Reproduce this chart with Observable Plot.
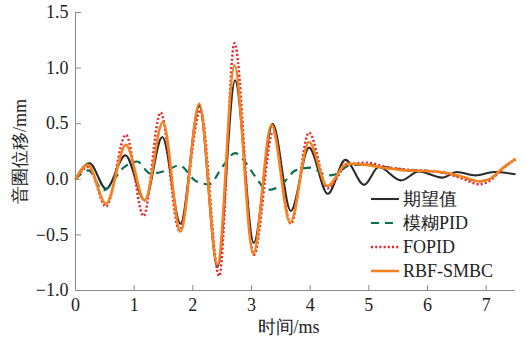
<!DOCTYPE html>
<html>
<head>
<meta charset="utf-8">
<script src="https://cdn.jsdelivr.net/npm/d3@7"></script>
<script src="https://cdn.jsdelivr.net/npm/@observablehq/plot@0.6"></script>
<style>
  html, body { margin: 0; padding: 0; background: white; }
  #wrap { position: relative; width: 527px; height: 338px; }
  #legend { position: absolute; left: 371px; top: 187px; font-family: 'Liberation Serif', 'Times New Roman', serif; font-size: 18px; color: #222; }
  .row { display: flex; align-items: center; height: 24px; white-space: nowrap; }
  .row svg { margin-right: 4px; }
</style>
</head>
<body>
<div id="wrap"><div id="legend"></div></div>
<script>
// ---- data ----
const xTicks = [0, 1, 2, 3, 4, 5, 6, 7];
const yTicks = [-1, -0.5, 0, 0.5, 1, 1.5];
const xDomain = [0, 7.5];
const yDomain = [-1, 1.5];
const xLabel = "时间/ms";
const yLabel = "音圈位移/mm";
const seriesNames = ["期望值", "模糊PID", "FOPID", "RBF-SMBC"];

const tDesired = [0, 0.24, 0.52, 0.85, 1.18, 1.48, 1.79, 2.11, 2.42, 2.72, 3.04, 3.36, 3.67, 3.98, 4.30, 4.60, 4.92, 5.17, 5.55, 5.85, 6.25, 6.5, 6.82, 7.13, 7.5];
const vDesired = [0, 0.145, -0.085, 0.215, -0.19, 0.38, -0.40, 0.66, -0.79, 0.89, -0.57, 0.50, -0.285, 0.285, -0.13, 0.175, -0.05, 0.11, -0.01, 0.07, 0.015, 0.065, 0.035, 0.065, 0.045];

const tFuzzy = [0, 0.22, 0.47, 0.83, 1.05, 1.28, 1.55, 1.77, 2.05, 2.28, 2.50, 2.72, 2.87, 3.07, 3.27, 3.50, 3.75, 4.01, 4.29, 4.4, 4.7, 5.0, 5.3, 5.6, 6.0, 6.34, 6.62, 6.88, 7.07, 7.27, 7.5];
const vFuzzy = [0, 0.08, -0.10, 0.11, 0.16, 0.05, 0.08, 0.125, -0.015, -0.045, 0.11, 0.235, 0.17, 0.02, -0.095, -0.055, 0.08, 0.105, 0.035, 0.04, 0.13, 0.13, 0.11, 0.085, 0.075, 0.055, 0.015, -0.02, 0.005, 0.095, 0.18];

const tFopid = [0, 0.22, 0.52, 0.86, 1.16, 1.45, 1.77, 2.13, 2.45, 2.71, 3.04, 3.37, 3.67, 3.98, 4.30, 4.63, 4.97, 5.3, 5.6, 6.0, 6.34, 6.62, 6.88, 7.07, 7.27, 7.5];
const vFopid = [0, 0.11, -0.245, 0.40, -0.33, 0.60, -0.46, 0.62, -0.87, 1.225, -0.68, 0.43, -0.40, 0.42, -0.08, 0.13, 0.15, 0.11, 0.09, 0.075, 0.05, 0.0, -0.045, -0.01, 0.09, 0.18];

const tRbf = [0, 0.21, 0.52, 0.86, 1.18, 1.49, 1.79, 2.11, 2.42, 2.71, 3.03, 3.34, 3.66, 3.98, 4.29, 4.63, 4.95, 5.3, 5.6, 6.0, 6.34, 6.62, 6.88, 7.07, 7.27, 7.5];
const vRbf = [0, 0.13, -0.22, 0.31, -0.19, 0.515, -0.47, 0.68, -0.77, 1.025, -0.67, 0.49, -0.39, 0.335, -0.06, 0.14, 0.13, 0.10, 0.08, 0.075, 0.057, 0.02, -0.018, 0.006, 0.096, 0.185];

// ---- styles ----
const styles = [
  {stroke: "#2b2b2b", strokeWidth: 2.1, dash: null},
  {stroke: "#0a6e50", strokeWidth: 2.2, dash: "8,6"},
  {stroke: "#ee1c25", strokeWidth: 2.4, dash: "2,2.2"},
  {stroke: "#f7821f", strokeWidth: 2.6, dash: null}
];
const ts = [tDesired, tFuzzy, tFopid, tRbf];
const vs = [vDesired, vFuzzy, vFopid, vRbf];
const series = seriesNames.map((name, i) => ts[i].map((t, j) => ({t, v: vs[i][j], name})));

const tickShape = {draw(ctx, l) { ctx.moveTo(0, 0); ctx.lineTo(0, -l); }};
const axisColor = "#8a8a8a";
const font = "'Liberation Serif', 'Times New Roman', serif";
const xMid = (xDomain[0] + xDomain[1]) / 2;
const yMid = (yDomain[0] + yDomain[1]) / 2;

const chart = Plot.plot({
  width: 527, height: 338,
  marginLeft: 75, marginRight: 12, marginTop: 12, marginBottom: 48,
  x: {domain: xDomain},
  y: {domain: yDomain},
  style: {fontFamily: font, fontSize: "18px", color: "#222", background: "white", overflow: "visible"},
  marks: [
    Plot.ruleY([yDomain[0]], {stroke: axisColor, strokeWidth: 1}),
    Plot.ruleX([xDomain[0]], {stroke: axisColor, strokeWidth: 1}),
    Plot.vector(xTicks, {x: d => d, frameAnchor: "bottom", length: 5, anchor: "start", shape: tickShape, stroke: axisColor, strokeWidth: 1}),
    Plot.vector(yTicks, {y: d => d, frameAnchor: "left", length: 5, rotate: 90, anchor: "start", shape: tickShape, stroke: axisColor, strokeWidth: 1}),
    Plot.axisX({ticks: xTicks, tickSize: 0, tickPadding: 8, tickFormat: d3.format("d"), label: null}),
    Plot.axisY({ticks: yTicks, tickSize: 0, tickPadding: 7, tickFormat: d3.format(".1f"), label: null}),
    ...series.map((d, i) => Plot.line(d, {
      x: "t", y: "v", curve: "monotone-x",
      stroke: styles[i].stroke, strokeWidth: styles[i].strokeWidth,
      strokeDasharray: styles[i].dash, strokeLinecap: "butt", strokeLinejoin: "round"
    })),
    Plot.text([xLabel], {x: () => xMid, y: () => yDomain[0], textAnchor: "middle", lineAnchor: "middle", dx: -7, dy: 37, text: d => d, fontSize: 18, fill: "#222"}),
    Plot.text([yLabel], {x: () => xDomain[0], y: () => yMid, textAnchor: "middle", lineAnchor: "middle", dx: -55, rotate: -90, text: d => d, fontSize: 18, fill: "#222"})
  ]
});
const wrap = document.getElementById("wrap");
wrap.insertBefore(chart, wrap.firstChild);

// legend
const legend = document.getElementById("legend");
seriesNames.forEach((name, i) => {
  const row = document.createElement("div");
  row.className = "row";
  const s = styles[i];
  row.innerHTML = `<svg width="28" height="6"><line x1="0" x2="28" y1="3" y2="3" stroke="${s.stroke}" stroke-width="${s.strokeWidth}" ${s.dash ? `stroke-dasharray="${s.dash}"` : ""}/></svg><span>${name}</span>`;
  legend.appendChild(row);
});
</script>
</body>
</html>
